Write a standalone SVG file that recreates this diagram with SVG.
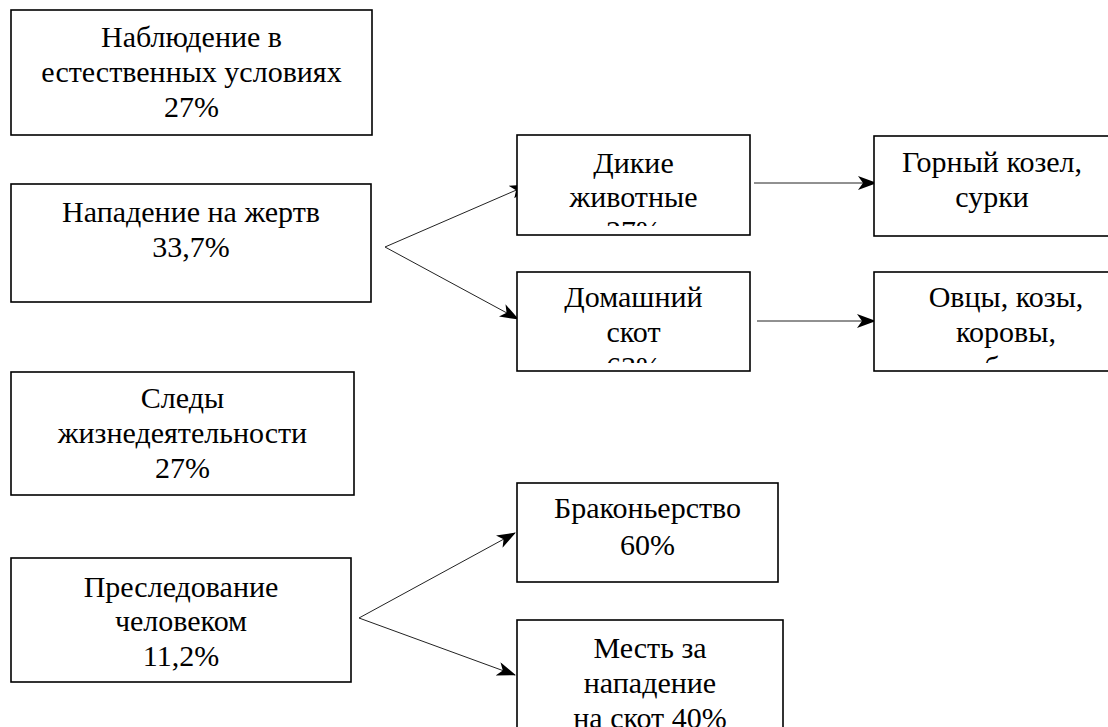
<svg xmlns="http://www.w3.org/2000/svg" width="1108" height="727" viewBox="0 0 1108 727">
<style>
.box{fill:#fff;stroke:#000;stroke-width:1.6}
.t{font-family:'Liberation Serif','Times New Roman',serif;font-size:30px;fill:#000;text-anchor:middle}
.c{stroke:#222;stroke-width:1;fill:none;marker-end:url(#ah)}
</style>
<defs>
<marker id="ah" markerWidth="20" markerHeight="14" refX="18" refY="7" orient="auto" markerUnits="userSpaceOnUse">
<path d="M0,0 L19,7 L0,14 L5,7 Z" fill="#000"/>
</marker>
<clipPath id="cDik"><rect x="517" y="135" width="233" height="91"/></clipPath>
<clipPath id="cDom"><rect x="517" y="272" width="233" height="91"/></clipPath>
<clipPath id="cOvc"><rect x="874" y="272" width="234" height="91"/></clipPath>
<clipPath id="cGor"><rect x="874" y="136" width="234" height="91"/></clipPath>
</defs>
<rect width="1108" height="727" fill="#fff"/>
<g id="connectors">
<line class="c" x1="385" y1="247" x2="528" y2="185"/>
<line class="c" x1="385" y1="247" x2="518" y2="319"/>
<line class="c" x1="754" y1="183" x2="876" y2="183"/>
<line class="c" x1="757" y1="321" x2="875" y2="321"/>
<line class="c" x1="359" y1="618" x2="515" y2="533"/>
<line class="c" x1="359" y1="618" x2="515" y2="675"/>
</g>
<g id="n-nabl">
<rect class="box" x="11" y="10" width="361" height="125"/>
<text class="t" x="191.5" y="47">Наблюдение в</text>
<text class="t" x="191.5" y="82">естественных условиях</text>
<text class="t" x="191.5" y="117">27%</text>
</g>
<g id="n-napad">
<rect class="box" x="11" y="184" width="360" height="118"/>
<text class="t" x="191" y="222">Нападение на жертв</text>
<text class="t" x="191" y="257">33,7%</text>
</g>
<g id="n-sledy">
<rect class="box" x="11" y="372" width="343" height="123"/>
<text class="t" x="182.5" y="408">Следы</text>
<text class="t" x="182.5" y="443">жизнедеятельности</text>
<text class="t" x="182.5" y="478">27%</text>
</g>
<g id="n-presl">
<rect class="box" x="11" y="558" width="340" height="124"/>
<text class="t" x="181" y="597">Преследование</text>
<text class="t" x="181" y="631">человеком</text>
<text class="t" x="181" y="666">11,2%</text>
</g>
<g id="n-dikie">
<rect class="box" x="517" y="135" width="233" height="100"/>
<g clip-path="url(#cDik)">
<text class="t" x="633.5" y="173">Дикие</text>
<text class="t" x="633.5" y="207">животные</text>
<text class="t" x="633.5" y="241">27%</text>
</g>
</g>
<g id="n-domash">
<rect class="box" x="517" y="272" width="233" height="99"/>
<g clip-path="url(#cDom)">
<text class="t" x="633.5" y="307">Домашний</text>
<text class="t" x="633.5" y="342">скот</text>
<text class="t" x="633.5" y="377">63%</text>
</g>
</g>
<g id="n-gorny">
<rect class="box" x="874" y="136" width="240" height="100"/>
<g clip-path="url(#cGor)">
<text class="t" x="992" y="172">Горный козел,</text>
<text class="t" x="992" y="207">сурки</text>
</g>
</g>
<g id="n-ovcy">
<rect class="box" x="874" y="272" width="240" height="99"/>
<g clip-path="url(#cOvc)">
<text class="t" x="1006" y="307">Овцы, козы,</text>
<text class="t" x="1006" y="342">коровы,</text>
<text class="t" x="1006" y="377">верблюды</text>
</g>
</g>
<g id="n-brak">
<rect class="box" x="517" y="483" width="261" height="99"/>
<text class="t" x="647.5" y="518">Браконьерство</text>
<text class="t" x="647.5" y="555">60%</text>
</g>
<g id="n-mest">
<rect class="box" x="517" y="620" width="266" height="130"/>
<text class="t" x="650" y="658">Месть за</text>
<text class="t" x="650" y="693">нападение</text>
<text class="t" x="650" y="728">на скот 40%</text>
</g>
</svg>
